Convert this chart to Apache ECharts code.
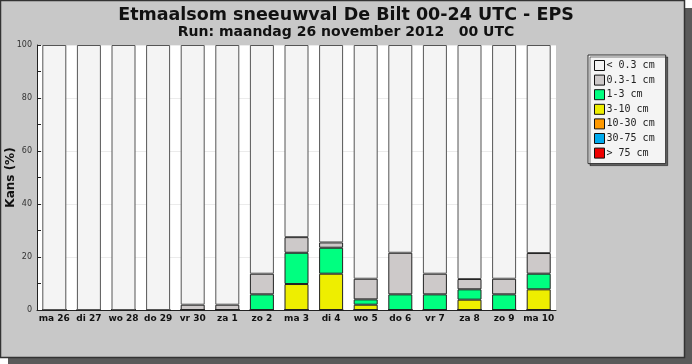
<!DOCTYPE html>
<html>
<head>
<meta charset="utf-8">
<script src="https://cdn.jsdelivr.net/npm/echarts@6/dist/echarts.min.js"></script>
<style>html,body{margin:0;padding:0;background:#fff;}#c{width:692px;height:364px;}</style>
</head>
<body>
<div id="c"></div>
<script>
var categories = ['ma 26','di 27','wo 28','do 29','vr 30','za 1','zo 2','ma 3','di 4','wo 5','do 6','vr 7','za 8','zo 9','ma 10'];
var lt03   = [100,100,100,100,98.0,98.0,86.3,72.5,74.5,88.2,78.4,86.3,88.3,88.2,78.5];
var c03_1  = [0,0,0,0,2.0,2.0,7.8,5.9,2.0,7.8,15.7,7.8,3.9,5.9,7.8];
var c1_3   = [0,0,0,0,0,0,5.9,11.8,9.8,2.0,5.9,5.9,3.9,5.9,5.9];
var c3_10  = [0,0,0,0,0,0,0,9.8,13.7,2.0,0,0,3.9,0,7.8];
var c10_30 = [0,0,0,0,0,0,0,0,0,0,0,0,0,0,0];
var c30_75 = [0,0,0,0,0,0,0,0,0,0,0,0,0,0,0];
var gt75   = [0,0,0,0,0,0,0,0,0,0,0,0,0,0,0];
var yTicks = [0,20,40,60,80,100];

var names = ['< 0.3 cm','0.3-1 cm','1-3 cm','3-10 cm','10-30 cm','30-75 cm','> 75 cm'];
var colors = ['#f4f4f4','#cdc9c9','#00ff80','#eeee00','#ff9900','#00aaee','#ee0000'];
var dataSets = [lt03,c03_1,c1_3,c3_10,c10_30,c30_75,gt75];

var series = [];
for (var i = dataSets.length - 1; i >= 0; i--) {
  series.push({
    name: names[i], type: 'bar', stack: 'all', barWidth: 24,
    data: dataSets[i],
    itemStyle: {color: colors[i], borderColor: i === 0 ? '#555' : '#222', borderWidth: 1},
    emphasis: {disabled: true}
  });
}

var chart = echarts.init(document.getElementById('c'), null, {renderer: 'canvas'});
chart.setOption({
  animation: false,
  backgroundColor: 'transparent',
  graphic: [
    {type: 'rect', z: -10, shape: {x: 8, y: 8, width: 684, height: 356}, style: {fill: '#5a5a5a'}, silent: true},
    {type: 'rect', z: -9, shape: {x: 0.5, y: 0.5, width: 684, height: 357}, style: {fill: '#c8c8c8', stroke: '#333', lineWidth: 1.5}, silent: true}
  ],
  title: [
    {text: 'Etmaalsom sneeuwval De Bilt 00-24 UTC - EPS', left: 'center', top: 1,
     textStyle: {fontFamily: 'DejaVu Sans', fontWeight: 'bold', fontSize: 17.5, color: '#111'}},
    {text: 'Run: maandag 26 november 2012   00 UTC', left: 'center', top: 20,
     textStyle: {fontFamily: 'DejaVu Sans', fontWeight: 'bold', fontSize: 14, color: '#111'}}
  ],
  legend: {
    orient: 'vertical', left: 588, top: 55,
    data: names,
    icon: 'rect', itemWidth: 10, itemHeight: 10, itemGap: 3.6,
    padding: [5, 11, 5, 6],
    backgroundColor: '#f4f4f4', borderColor: '#333', borderWidth: 1,
    shadowColor: 'rgba(0,0,0,0.5)', shadowOffsetX: 2, shadowOffsetY: 2, shadowBlur: 0,
    itemStyle: {borderColor: '#111', borderWidth: 1},
    textStyle: {fontFamily: 'DejaVu Sans Mono', fontSize: 10, color: '#222', padding: [0,0,0,-3]},
    selectedMode: false
  },
  grid: {left: 37, right: 136, top: 45, bottom: 54, show: true, backgroundColor: '#fff', borderWidth: 0,
         containLabel: false, outerBoundsMode: 'none'},
  xAxis: {
    type: 'category', data: categories, boundaryGap: true,
    axisLine: {lineStyle: {color: '#222', width: 1}},
    axisTick: {inside: true, length: 5, lineStyle: {color: '#222'}},
    axisLabel: {fontFamily: 'DejaVu Sans', fontWeight: 'bold', fontSize: 9, color: '#111', margin: 4, interval: 0}
  },
  yAxis: {
    type: 'value', min: 0, max: 100, interval: 20,
    name: 'Kans (%)', nameLocation: 'middle', nameGap: 20, nameMoveOverlap: false,
    nameTextStyle: {fontFamily: 'DejaVu Sans', fontWeight: 'bold', fontSize: 12, color: '#111'},
    axisLine: {show: true, lineStyle: {color: '#222'}},
    axisTick: {show: true, inside: true, length: 4, lineStyle: {color: '#222'}},
    minorTick: {show: true, splitNumber: 2, length: 4, lineStyle: {color: '#222'}},
    axisLabel: {fontFamily: 'DejaVu Sans', fontSize: 8, color: '#333', margin: 5,
      formatter: function (v) { return yTicks.indexOf(v) >= 0 ? String(v) : ''; }},
    splitLine: {show: true, lineStyle: {color: '#ebebeb'}}
  },
  series: series
});
</script>
</body>
</html>
